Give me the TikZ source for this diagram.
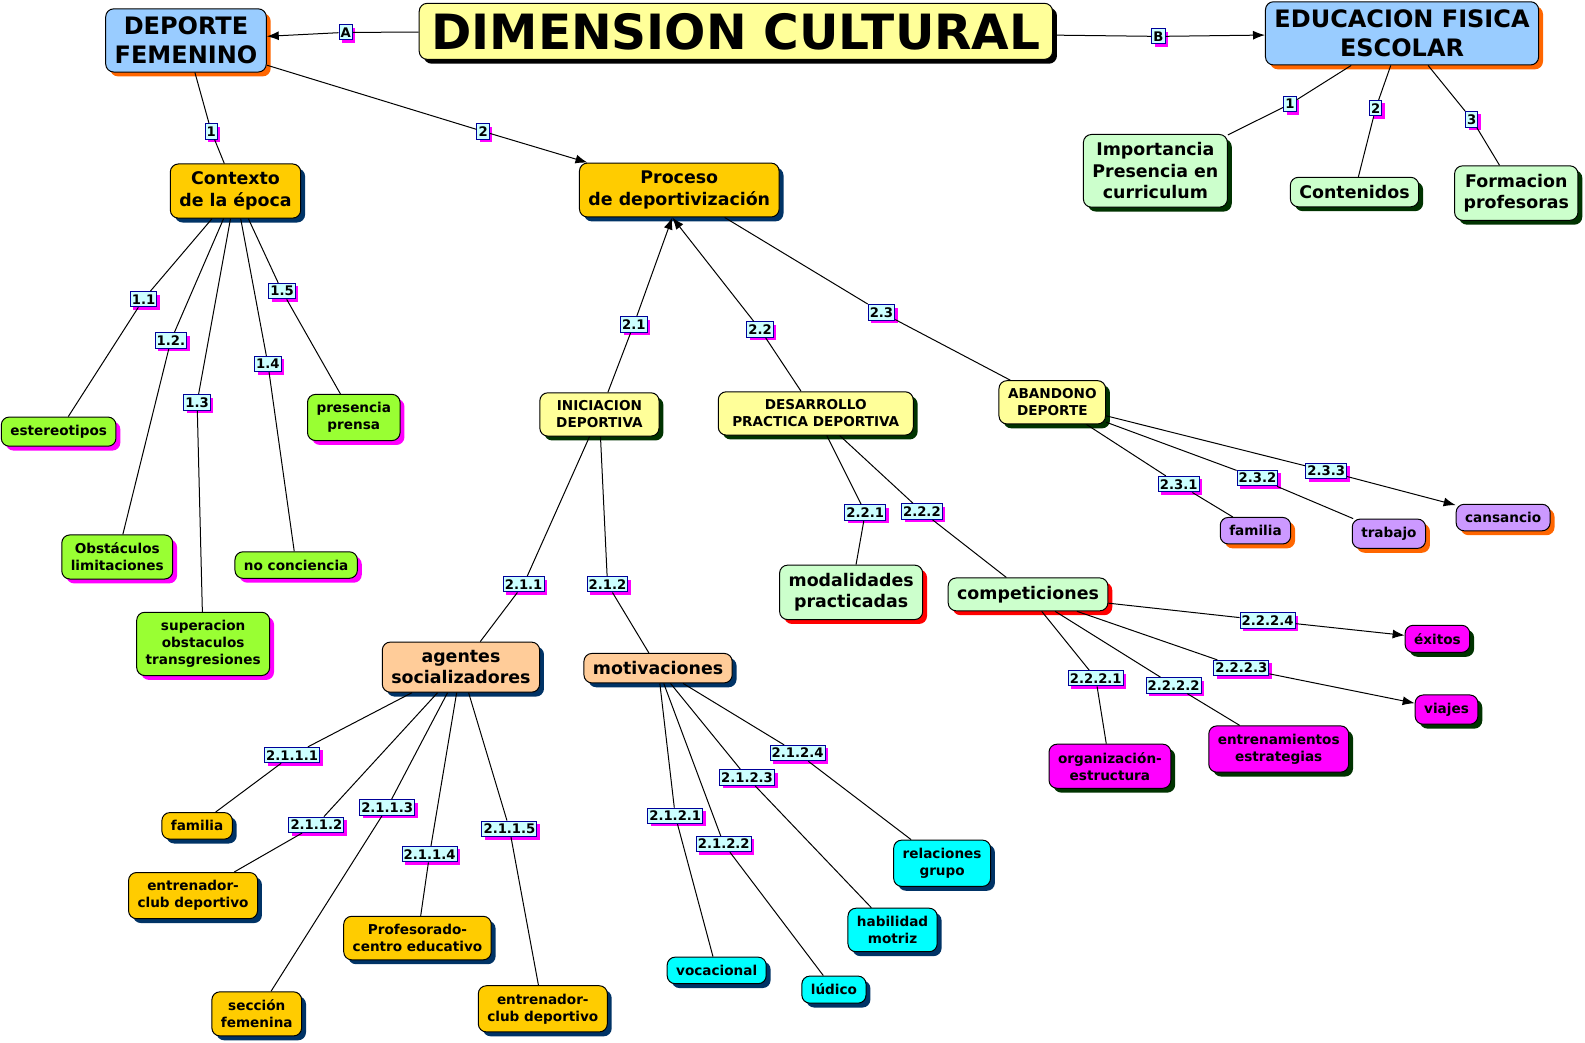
\documentclass[tikz,border=0pt]{standalone}
\usepackage{fontspec}
\setmainfont{DejaVu Sans}
\usepackage{tikz}
\usetikzlibrary{shadows,arrows.meta}

\definecolor{cmblue}{HTML}{99CCFF}
\definecolor{cmorange}{HTML}{FF6600}
\definecolor{cmyellow}{HTML}{FFFF99}
\definecolor{cmmint}{HTML}{CCFFCC}
\definecolor{cmgold}{HTML}{FFCC00}
\definecolor{cmlime}{HTML}{99FF33}
\definecolor{cmlilac}{HTML}{CC99FF}
\definecolor{cmpink}{HTML}{FF00FF}
\definecolor{cmpeach}{HTML}{FFCC99}
\definecolor{cmcyan}{HTML}{00FFFF}
\definecolor{cmnavy}{HTML}{003366}
\definecolor{cmdkgreen}{HTML}{003300}
\definecolor{cmlabel}{HTML}{CCFFFF}
\definecolor{cmlblue}{HTML}{000099}

\tikzset{
  concept/.style={draw, rounded corners=4pt, align=center, inner xsep=4.5pt, inner ysep=4pt, line width=0.5pt},
  cmshadow/.style={drop shadow={shadow xshift=2.2pt, shadow yshift=-2.2pt, opacity=1, fill=#1}},
  bigfont/.style={font=\fontsize{12}{14.5}\selectfont\bfseries},
  midfont/.style={font=\fontsize{8.7}{10.8}\selectfont\bfseries},
  smlfont/.style={font=\fontsize{6.8}{8.5}\selectfont\bfseries},
  titlebox/.style={concept, fill=cmyellow, cmshadow=black, inner xsep=6pt, inner ysep=4.8pt, font=\fontsize{24.3}{28}\selectfont\bfseries},
  bluebox/.style={concept, bigfont, fill=cmblue, cmshadow=cmorange},
  mintbox/.style={concept, midfont, fill=cmmint, cmshadow=cmdkgreen},
  goldbox/.style={concept, midfont, fill=cmgold, cmshadow=cmnavy},
  limebox/.style={concept, smlfont, fill=cmlime, cmshadow=cmpink},
  lemonbox/.style={concept, smlfont, fill=cmyellow, cmshadow=cmdkgreen},
  redmintbox/.style={concept, midfont, fill=cmmint, cmshadow=red},
  lilacbox/.style={concept, smlfont, fill=cmlilac, cmshadow=cmorange},
  pinkbox/.style={concept, smlfont, fill=cmpink, cmshadow=cmdkgreen},
  peachbox/.style={concept, midfont, fill=cmpeach, cmshadow=cmnavy},
  smgoldbox/.style={concept, smlfont, fill=cmgold, cmshadow=cmnavy},
  cyanbox/.style={concept, smlfont, fill=cmcyan, cmshadow=cmnavy},
  lbl/.style={draw=cmlblue, fill=cmlabel, inner xsep=0.8pt, inner ysep=1.4pt, line width=0.5pt,
    font=\fontsize{6.6}{7}\selectfont\bfseries,
    drop shadow={shadow xshift=1.5pt, shadow yshift=-1.5pt, opacity=1, fill=cmpink}},
}

\begin{document}
\begin{tikzpicture}[x=0.5054pt, y=-0.5054pt, >={Latex[length=6pt,width=4.5pt]}, line width=0.5pt]
            \useasboundingbox (0,0) rectangle (1568,1031);

            \node[titlebox] (title) at (728,31) {DIMENSION CULTURAL};
            \node[bluebox] (depfem) at (184,40) {DEPORTE\\FEMENINO};
            \node[bluebox] (edfis) at (1387,33) {EDUCACION FISICA\\ESCOLAR};

            \node[mintbox] (import) at (1143,169) {Importancia\\Presencia en\\curriculum};
            \node[mintbox] (conten) at (1340,190) {Contenidos};
            \node[mintbox] (formac) at (1500,191) {Formacion\\profesoras};

            \node[goldbox] (contexto) at (233,189) {Contexto\\de la época};
            \node[goldbox] (proceso) at (672,188) {Proceso\\de deportivización};
            \coordinate (procin) at ([xshift=-3.5pt]proceso.south);

            \node[limebox] (estereo) at (58,427) {estereotipos};
            \node[limebox] (obstac) at (116,551) {Obstáculos\\limitaciones};
            \node[limebox] (superac) at (201,637) {superacion\\obstaculos\\transgresiones};
            \node[limebox] (noconc) at (293,559) {no conciencia};
            \node[limebox] (prensa) at (350,413) {presencia\\prensa};

            \node[lemonbox, minimum width=59.6pt] (inicia) at (593,410) {INICIACION\\DEPORTIVA};
            \node[lemonbox, minimum width=97.5pt] (desarr) at (807,409) {DESARROLLO\\PRACTICA DEPORTIVA};
            \node[lemonbox] (abando) at (1041,398) {ABANDONO\\DEPORTE};

            \node[lilacbox] (famab) at (1242,525) {familia};
            \node[lilacbox] (trabajo) at (1374,528) {trabajo};
            \node[lilacbox] (cansan) at (1487,512) {cansancio};

            \node[redmintbox] (modal) at (842,586) {modalidades\\practicadas};
            \node[redmintbox] (compet) at (1017,588) {competiciones};

            \node[pinkbox] (exitos) at (1422,632) {éxitos};
            \node[pinkbox] (viajes) at (1431,702) {viajes};
            \node[pinkbox] (organiz) at (1098,758) {organización-\\estructura};
            \node[pinkbox] (entrest) at (1265,741) {entrenamientos\\estrategias};

            \node[peachbox] (agentes) at (456,660) {agentes\\socializadores};
            \node[peachbox] (motiv) at (651,661) {motivaciones};

            \node[smgoldbox] (famag) at (195,817) {familia};
            \node[smgoldbox] (entrl) at (191,886) {entrenador-\\club deportivo};
            \node[smgoldbox] (seccion) at (254,1003) {sección\\femenina};
            \node[smgoldbox] (profes) at (413,928) {Profesorado-\\centro educativo};
            \node[smgoldbox] (entrr) at (537,998) {entrenador-\\club deportivo};

            \node[cyanbox] (vocac) at (709,960) {vocacional};
            \node[cyanbox] (ludico) at (825,979) {lúdico};
            \node[cyanbox] (habil) at (883,920) {habilidad\\motriz};
            \node[cyanbox] (relac) at (932,854) {relaciones\\grupo};

            \node[lbl] (la) at (342,32) {A};
            \node[lbl] (lb) at (1146,36) {B};
            \node[lbl] (ldf1) at (209,130) {1};
            \node[lbl] (ldf2) at (478,130) {2};
            \node[lbl] (lef1) at (1276,103) {1};
            \node[lbl] (lef2) at (1361,107) {2};
            \node[lbl] (lef3) at (1456,118) {3};
            \node[lbl] (l11) at (142,296) {1.1};
            \node[lbl] (l12) at (169,337) {1.2.};
            \node[lbl] (l13) at (195,398) {1.3};
            \node[lbl] (l14) at (265,360) {1.4};
            \node[lbl] (l15) at (279,288) {1.5};
            \node[lbl] (l21) at (627,321) {2.1};
            \node[lbl] (l22) at (752,326) {2.2};
            \node[lbl] (l23) at (872,309) {2.3};
            \node[lbl] (l211) at (518,578) {2.1.1};
            \node[lbl] (l212) at (601,578) {2.1.2};
            \node[lbl] (l221) at (856,507) {2.2.1};
            \node[lbl] (l222) at (912,506) {2.2.2};
            \node[lbl] (l231) at (1166,479) {2.3.1};
            \node[lbl] (l232) at (1244,473) {2.3.2};
            \node[lbl] (l233) at (1312,466) {2.3.3};
            \node[lbl] (l2221) at (1084,671) {2.2.2.1};
            \node[lbl] (l2222) at (1161,678) {2.2.2.2};
            \node[lbl] (l2223) at (1228,661) {2.2.2.3};
            \node[lbl] (l2224) at (1254,614) {2.2.2.4};
            \node[lbl] (l2111) at (289,747) {2.1.1.1};
            \node[lbl] (l2112) at (313,816) {2.1.1.2};
            \node[lbl] (l2113) at (383,799) {2.1.1.3};
            \node[lbl] (l2114) at (425,845) {2.1.1.4};
            \node[lbl] (l2115) at (504,820) {2.1.1.5};
            \node[lbl] (l2121) at (668,807) {2.1.2.1};
            \node[lbl] (l2122) at (716,835) {2.1.2.2};
            \node[lbl] (l2123) at (739,769) {2.1.2.3};
            \node[lbl] (l2124) at (789,745) {2.1.2.4};

            \draw[->] (title) -- (la) -- (depfem);
            \draw[->] (title) -- (lb) -- (edfis);
            \draw (depfem) -- (ldf1) -- (contexto);
            \draw[->] (depfem) -- (ldf2) -- (proceso);
            \draw (edfis) -- (lef1) -- (import);
            \draw (edfis) -- (lef2) -- (conten);
            \draw (edfis) -- (lef3) -- (formac);

            \draw (contexto) -- (l11) -- (estereo);
            \draw (contexto) -- (l12) -- (obstac);
            \draw (contexto) -- (l13) -- (superac);
            \draw (contexto) -- (l14) -- (noconc);
            \draw (contexto) -- (l15) -- (prensa);

            \draw[->] (inicia) -- (l21) -- (procin);
            \draw[->] (desarr) -- (l22) -- (procin);
            \draw (proceso) -- (l23) -- (abando);

            \draw (inicia) -- (l211) -- (agentes);
            \draw (inicia) -- (l212) -- (motiv);
            \draw (desarr) -- (l221) -- (modal);
            \draw (desarr) -- (l222) -- (compet);
            \draw (abando) -- (l231) -- (famab);
            \draw (abando) -- (l232) -- (trabajo);
            \draw[->] (abando) -- (l233) -- (cansan);

            \draw (compet) -- (l2221) -- (organiz);
            \draw (compet) -- (l2222) -- (entrest);
            \draw[->] (compet) -- (l2223) -- (viajes);
            \draw[->] (compet) -- (l2224) -- (exitos);

            \draw (agentes) -- (l2111) -- (famag);
            \draw (agentes) -- (l2112) -- (entrl);
            \draw (agentes) -- (l2113) -- (seccion);
            \draw (agentes) -- (l2114) -- (profes);
            \draw (agentes) -- (l2115) -- (entrr);

            \draw (motiv) -- (l2121) -- (vocac);
            \draw (motiv) -- (l2122) -- (ludico);
            \draw (motiv) -- (l2123) -- (habil);
            \draw (motiv) -- (l2124) -- (relac);
        \end{tikzpicture}
\end{document}
